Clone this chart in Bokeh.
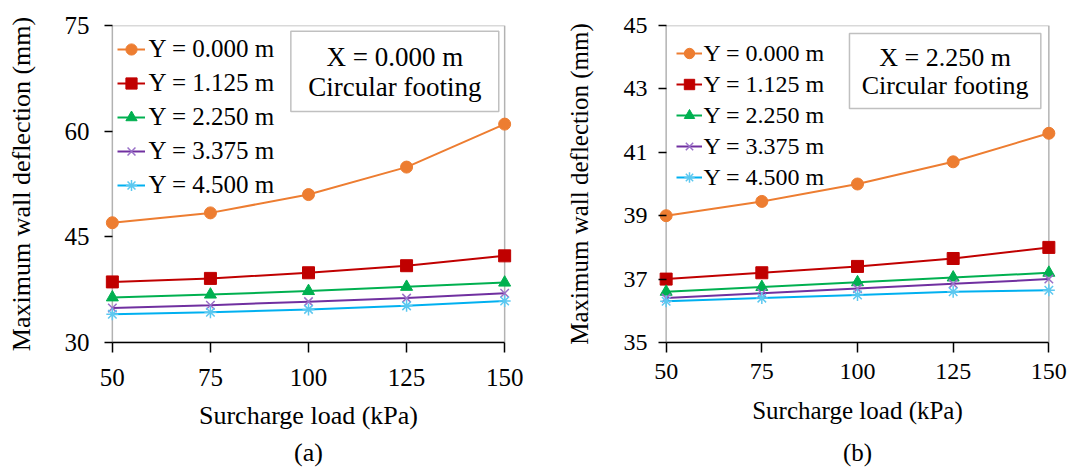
from bokeh.plotting import figure
from bokeh.models import Range1d, Legend, LegendItem, BoxAnnotation, Label, FixedTicker, LinearAxis
from bokeh.layouts import row
from bokeh.embed import file_html
from bokeh.resources import INLINE

# ---------------- data ----------------
surcharge = [50, 75, 100, 125, 150]
series_names = ["Y = 0.000 m", "Y = 1.125 m", "Y = 2.250 m", "Y = 3.375 m", "Y = 4.500 m"]

a_y0000 = [47.0, 48.4, 51.0, 54.9, 61.0]
a_y1125 = [38.6, 39.1, 39.9, 40.9, 42.3]
a_y2250 = [36.4, 36.8, 37.3, 37.9, 38.5]
a_y3375 = [34.9, 35.3, 35.8, 36.3, 37.0]
a_y4500 = [34.0, 34.3, 34.7, 35.2, 35.9]

b_y0000 = [39.0, 39.45, 40.0, 40.7, 41.6]
b_y1125 = [37.0, 37.2, 37.4, 37.65, 38.0]
b_y2250 = [36.6, 36.75, 36.9, 37.05, 37.2]
b_y3375 = [36.4, 36.55, 36.7, 36.85, 37.0]
b_y4500 = [36.3, 36.4, 36.5, 36.6, 36.65]

a_yticks = [30, 45, 60, 75]
b_yticks = [35, 37, 39, 41, 43, 45]
x_ticks = [50, 75, 100, 125, 150]

# ---------------- styles ----------------
FONT = "Liberation Serif"
line_colors = ["#ED7D31", "#C00000", "#00B050", "#7030A0", "#00B0F0"]
marker_colors = ["#ED7D31", "#C00000", "#00B050", "#9A70C8", "#5CC8F0"]
markers = ["circle", "square", "triangle", "x", "asterisk"]
X_MIN, X_MAX, X_PAD = 50, 150, 2


def make_panel(series, yr, yticks, box_lines, tag, g):
    p = figure(width=g["w"], height=471, output_backend="svg", toolbar_location=None,
               x_range=Range1d(X_MIN - X_PAD, X_MAX + X_PAD), y_range=Range1d(*yr),
               min_border_left=g["ml"], min_border_right=g["mr"],
               min_border_top=25, min_border_bottom=g["mb"])
    p.grid.visible = False
    p.outline_line_color = None
    p.background_fill_color = "white"
    p.border_fill_color = "white"

    # plot box (axes frame from 50 to 150)
    p.add_layout(BoxAnnotation(left=X_MIN, right=X_MAX, bottom=yr[0], top=yr[1],
                               fill_alpha=0, line_color="black", line_width=1.5,
                               level="underlay"))

    items = []
    for i, ys in enumerate(series):
        ln = p.line(surcharge, ys, line_color=line_colors[i], line_width=2)
        sc = p.scatter(surcharge, ys, marker=markers[i], size=12,
                       fill_color=marker_colors[i], line_color=marker_colors[i],
                       line_width=1.5 if i >= 3 else 1)
        items.append(LegendItem(label=series_names[i], renderers=[ln, sc]))

    xa = p.xaxis[0]
    ya = p.yaxis[0]
    xa.ticker = FixedTicker(ticks=x_ticks)
    ya.ticker = FixedTicker(ticks=yticks)
    xa.bounds = (X_MIN, X_MAX)
    for ax in (xa, ya):
        ax.axis_line_color = "black"
        ax.axis_line_width = 1.5
        ax.major_tick_line_color = "black"
        ax.major_tick_line_width = 1.5
        ax.minor_tick_line_color = None
        ax.major_label_text_font = FONT
        ax.major_label_text_font_size = g["tick_fs"]
        ax.major_label_text_color = "black"
        ax.axis_label_text_font = FONT
        ax.axis_label_text_font_size = g["lab_fs"]
        ax.axis_label_text_font_style = "normal"
        ax.axis_label_text_color = "black"
    xa.major_tick_in = 0
    xa.major_tick_out = 10
    # y axis sits at the padded frame edge; its ticks reach in to the box line at x=50
    ya.axis_line_color = None
    ya.major_tick_out = 0
    ya.major_tick_in = g["ytick_in"]
    xa.axis_label = "Surcharge load (kPa)"
    ya.axis_label = "Maximum wall deflection (mm)"
    xa.major_label_standoff = g["x_std"]
    xa.axis_label_standoff = g["x_lab_std"]
    ya.major_label_standoff = g["y_std"]
    ya.axis_label_standoff = g["y_lab_std"]

    # panel tag "(a)" / "(b)" as the title of a bare extra axis under the x axis
    tag_ax = LinearAxis(ticker=FixedTicker(ticks=[]), axis_line_color=None,
                        major_tick_line_color=None, minor_tick_line_color=None,
                        major_tick_out=0, major_tick_in=0, major_label_standoff=0,
                        axis_label=tag, axis_label_standoff=g["tag_std"],
                        axis_label_text_font=FONT, axis_label_text_font_size=g["lab_fs"],
                        axis_label_text_font_style="normal", axis_label_text_color="black")
    p.add_layout(tag_ax, "below")

    leg = Legend(items=items, location=g["leg_loc"], orientation="vertical",
                 label_text_font=FONT, label_text_font_size=g["leg_fs"],
                 label_text_color="black",
                 glyph_width=g["gw"], glyph_height=g["gh"], label_height=g["gh"],
                 spacing=g["sp"], label_standoff=g["lstd"], padding=0, margin=0,
                 border_line_alpha=0, background_fill_alpha=0)
    p.add_layout(leg)

    bx = g["box"]
    p.add_layout(BoxAnnotation(left=bx[0], right=bx[1], bottom=bx[2], top=bx[3],
                               fill_color="white", fill_alpha=1,
                               line_color="#303030", line_width=1.5, level="annotation"))
    for txt, yy in zip(box_lines, g["box_ty"]):
        p.add_layout(Label(x=g["box_tx"], y=yy, text=txt, text_align="center",
                           text_baseline="middle", text_font=FONT,
                           text_font_size=g["box_fs"], text_color="black"))
    return p


ga = dict(w=540, ml=104, mr=28, mb=126, tick_fs="25px", lab_fs="26px",
          x_std=16, x_lab_std=12, y_std=15, y_lab_std=26, ytick_in=8, tag_std=5,
          leg_loc=(12.5, 142), leg_fs="25px", gw=28, gh=30, sp=4, lstd=4,
          box=(95.5, 148.5, 62.8, 74.2), box_tx=122.0, box_ty=[70.5, 66.3], box_fs="27px")

gb = dict(w=535, ml=118, mr=19, mb=129, tick_fs="24px", lab_fs="25px",
          x_std=11, x_lab_std=15, y_std=11, y_lab_std=28, ytick_in=8, tag_std=12,
          leg_loc=(17.5, 151), leg_fs="24px", gw=26, gh=28, sp=3, lstd=2,
          box=(97.9, 147.9, 42.38, 44.75), box_tx=122.9, box_ty=[43.99, 43.1], box_fs="26px")

pa = make_panel([a_y0000, a_y1125, a_y2250, a_y3375, a_y4500], (30, 75), a_yticks,
                ["X = 0.000 m", "Circular footing"], "(a)", ga)
pb = make_panel([b_y0000, b_y1125, b_y2250, b_y3375, b_y4500], (35, 45), b_yticks,
                ["X = 2.250 m", "Circular footing"], "(b)", gb)

layout = row(pa, pb)
open("out.html", "w").write(file_html(layout, INLINE))
